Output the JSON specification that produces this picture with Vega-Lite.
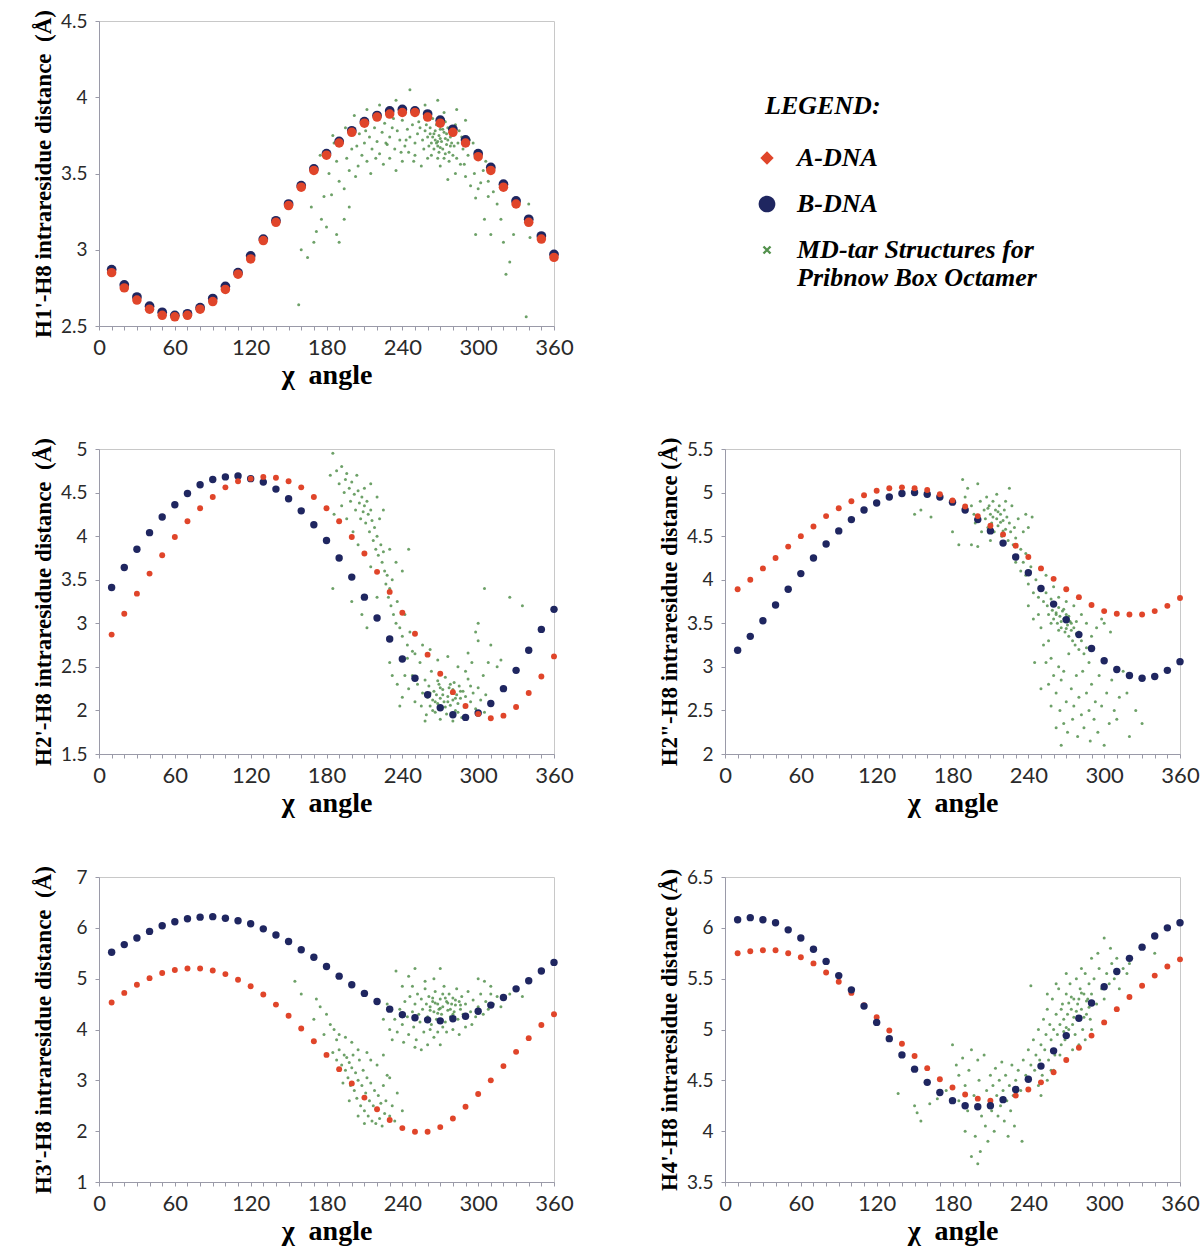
{
"$schema": "https://vega.github.io/schema/vega-lite/v6.json",
"background": "white",
"padding": {"left": 31, "top": 9, "right": 3, "bottom": 5},
"columns": 2,
"bounds": "flush",
"spacing": {"row": 123, "column": 171},
"resolve": {"scale": {"color": "independent", "shape": "independent"}},
"datasets": {
"ab1": [{"x":10,"a":2.85,"b":2.87},{"x":20,"a":2.75,"b":2.77},{"x":30,"a":2.67,"b":2.69},{"x":40,"a":2.61,"b":2.63},{"x":50,"a":2.57,"b":2.59},{"x":60,"a":2.56,"b":2.57},{"x":70,"a":2.57,"b":2.58},{"x":80,"a":2.61,"b":2.62},{"x":90,"a":2.66,"b":2.68},{"x":100,"a":2.74,"b":2.76},{"x":110,"a":2.84,"b":2.85},{"x":120,"a":2.94,"b":2.96},{"x":130,"a":3.06,"b":3.07},{"x":140,"a":3.18,"b":3.19},{"x":150,"a":3.29,"b":3.3},{"x":160,"a":3.41,"b":3.42},{"x":170,"a":3.52,"b":3.53},{"x":180,"a":3.62,"b":3.63},{"x":190,"a":3.7,"b":3.71},{"x":200,"a":3.77,"b":3.78},{"x":210,"a":3.83,"b":3.84},{"x":220,"a":3.87,"b":3.88},{"x":230,"a":3.89,"b":3.91},{"x":240,"a":3.9,"b":3.92},{"x":250,"a":3.9,"b":3.91},{"x":260,"a":3.87,"b":3.89},{"x":270,"a":3.83,"b":3.85},{"x":280,"a":3.77,"b":3.79},{"x":290,"a":3.7,"b":3.72},{"x":300,"a":3.61,"b":3.63},{"x":310,"a":3.52,"b":3.54},{"x":320,"a":3.41,"b":3.43},{"x":330,"a":3.3,"b":3.32},{"x":340,"a":3.18,"b":3.2},{"x":350,"a":3.07,"b":3.09},{"x":360,"a":2.95,"b":2.97}],
"ab2": [{"x":10,"a":2.87,"b":3.41},{"x":20,"a":3.11,"b":3.64},{"x":30,"a":3.34,"b":3.85},{"x":40,"a":3.57,"b":4.04},{"x":50,"a":3.78,"b":4.22},{"x":60,"a":3.99,"b":4.36},{"x":70,"a":4.17,"b":4.49},{"x":80,"a":4.32,"b":4.59},{"x":90,"a":4.45,"b":4.65},{"x":100,"a":4.56,"b":4.68},{"x":110,"a":4.63,"b":4.69},{"x":120,"a":4.66,"b":4.66},{"x":130,"a":4.68,"b":4.62},{"x":140,"a":4.67,"b":4.54},{"x":150,"a":4.63,"b":4.43},{"x":160,"a":4.56,"b":4.29},{"x":170,"a":4.45,"b":4.13},{"x":180,"a":4.32,"b":3.95},{"x":190,"a":4.17,"b":3.75},{"x":200,"a":3.99,"b":3.53},{"x":210,"a":3.8,"b":3.3},{"x":220,"a":3.59,"b":3.06},{"x":230,"a":3.36,"b":2.82},{"x":240,"a":3.12,"b":2.59},{"x":250,"a":2.88,"b":2.37},{"x":260,"a":2.64,"b":2.18},{"x":270,"a":2.42,"b":2.03},{"x":280,"a":2.21,"b":1.95},{"x":290,"a":2.05,"b":1.92},{"x":300,"a":1.96,"b":1.97},{"x":310,"a":1.91,"b":2.08},{"x":320,"a":1.94,"b":2.25},{"x":330,"a":2.04,"b":2.46},{"x":340,"a":2.2,"b":2.69},{"x":350,"a":2.39,"b":2.93},{"x":360,"a":2.62,"b":3.16}],
"ab3": [{"x":10,"a":3.89,"b":3.19},{"x":20,"a":4.0,"b":3.35},{"x":30,"a":4.13,"b":3.53},{"x":40,"a":4.25,"b":3.71},{"x":50,"a":4.38,"b":3.89},{"x":60,"a":4.5,"b":4.07},{"x":70,"a":4.61,"b":4.25},{"x":80,"a":4.73,"b":4.41},{"x":90,"a":4.82,"b":4.56},{"x":100,"a":4.9,"b":4.69},{"x":110,"a":4.97,"b":4.8},{"x":120,"a":5.02,"b":4.88},{"x":130,"a":5.05,"b":4.95},{"x":140,"a":5.06,"b":4.99},{"x":150,"a":5.05,"b":5.0},{"x":160,"a":5.03,"b":4.98},{"x":170,"a":4.98,"b":4.95},{"x":180,"a":4.91,"b":4.89},{"x":190,"a":4.84,"b":4.8},{"x":200,"a":4.73,"b":4.69},{"x":210,"a":4.62,"b":4.56},{"x":220,"a":4.52,"b":4.42},{"x":230,"a":4.39,"b":4.26},{"x":240,"a":4.26,"b":4.08},{"x":250,"a":4.13,"b":3.9},{"x":260,"a":4.01,"b":3.72},{"x":270,"a":3.89,"b":3.54},{"x":280,"a":3.8,"b":3.37},{"x":290,"a":3.71,"b":3.21},{"x":300,"a":3.64,"b":3.07},{"x":310,"a":3.61,"b":2.97},{"x":320,"a":3.6,"b":2.9},{"x":330,"a":3.6,"b":2.87},{"x":340,"a":3.64,"b":2.89},{"x":350,"a":3.7,"b":2.96},{"x":360,"a":3.79,"b":3.06}],
"ab4": [{"x":10,"a":4.53,"b":5.52},{"x":20,"a":4.72,"b":5.67},{"x":30,"a":4.88,"b":5.8},{"x":40,"a":5.01,"b":5.93},{"x":50,"a":5.11,"b":6.04},{"x":60,"a":5.17,"b":6.12},{"x":70,"a":5.2,"b":6.18},{"x":80,"a":5.2,"b":6.21},{"x":90,"a":5.16,"b":6.22},{"x":100,"a":5.09,"b":6.19},{"x":110,"a":4.98,"b":6.14},{"x":120,"a":4.85,"b":6.08},{"x":130,"a":4.69,"b":5.98},{"x":140,"a":4.49,"b":5.86},{"x":150,"a":4.27,"b":5.73},{"x":160,"a":4.02,"b":5.57},{"x":170,"a":3.77,"b":5.42},{"x":180,"a":3.5,"b":5.24},{"x":190,"a":3.22,"b":5.05},{"x":200,"a":2.94,"b":4.88},{"x":210,"a":2.66,"b":4.71},{"x":220,"a":2.43,"b":4.55},{"x":230,"a":2.22,"b":4.4},{"x":240,"a":2.06,"b":4.29},{"x":250,"a":1.99,"b":4.23},{"x":260,"a":1.99,"b":4.19},{"x":270,"a":2.08,"b":4.17},{"x":280,"a":2.25,"b":4.21},{"x":290,"a":2.48,"b":4.26},{"x":300,"a":2.73,"b":4.36},{"x":310,"a":3.0,"b":4.48},{"x":320,"a":3.28,"b":4.63},{"x":330,"a":3.56,"b":4.8},{"x":340,"a":3.83,"b":4.96},{"x":350,"a":4.09,"b":5.15},{"x":360,"a":4.3,"b":5.32}],
"ab5": [{"x":10,"a":5.75,"b":6.08},{"x":20,"a":5.77,"b":6.1},{"x":30,"a":5.78,"b":6.08},{"x":40,"a":5.78,"b":6.05},{"x":50,"a":5.75,"b":5.98},{"x":60,"a":5.71,"b":5.9},{"x":70,"a":5.65,"b":5.79},{"x":80,"a":5.56,"b":5.67},{"x":90,"a":5.47,"b":5.53},{"x":100,"a":5.36,"b":5.39},{"x":110,"a":5.24,"b":5.23},{"x":120,"a":5.12,"b":5.07},{"x":130,"a":4.99,"b":4.91},{"x":140,"a":4.86,"b":4.75},{"x":150,"a":4.74,"b":4.61},{"x":160,"a":4.62,"b":4.48},{"x":170,"a":4.51,"b":4.38},{"x":180,"a":4.43,"b":4.3},{"x":190,"a":4.36,"b":4.25},{"x":200,"a":4.32,"b":4.24},{"x":210,"a":4.3,"b":4.25},{"x":220,"a":4.31,"b":4.31},{"x":230,"a":4.35,"b":4.41},{"x":240,"a":4.41,"b":4.51},{"x":250,"a":4.48,"b":4.64},{"x":260,"a":4.58,"b":4.79},{"x":270,"a":4.7,"b":4.94},{"x":280,"a":4.82,"b":5.11},{"x":290,"a":4.94,"b":5.26},{"x":300,"a":5.07,"b":5.42},{"x":310,"a":5.2,"b":5.57},{"x":320,"a":5.32,"b":5.7},{"x":330,"a":5.43,"b":5.81},{"x":340,"a":5.53,"b":5.92},{"x":350,"a":5.62,"b":6.0},{"x":360,"a":5.69,"b":6.05}],
"md1": [{"x":258,"y":3.78},{"x":260,"y":3.74},{"x":262,"y":3.8},{"x":263,"y":3.7},{"x":265,"y":3.76},{"x":266,"y":3.72},{"x":267,"y":3.82},{"x":268,"y":3.68},{"x":269,"y":3.75},{"x":270,"y":3.79},{"x":271,"y":3.71},{"x":272,"y":3.66},{"x":273,"y":3.77},{"x":274,"y":3.73},{"x":275,"y":3.69},{"x":276,"y":3.8},{"x":277,"y":3.64},{"x":278,"y":3.74},{"x":279,"y":3.7},{"x":280,"y":3.62},{"x":264,"y":3.86},{"x":268,"y":3.6},{"x":261,"y":3.68},{"x":274,"y":3.84},{"x":266,"y":3.78},{"x":270,"y":3.73},{"x":272,"y":3.79},{"x":268,"y":3.71},{"x":264,"y":3.74},{"x":276,"y":3.72},{"x":278,"y":3.68},{"x":262,"y":3.76},{"x":270,"y":3.67},{"x":274,"y":3.63},{"x":256,"y":3.72},{"x":254,"y":3.8},{"x":252,"y":3.76},{"x":250,"y":3.7},{"x":248,"y":3.82},{"x":246,"y":3.74},{"x":244,"y":3.79},{"x":242,"y":3.68},{"x":240,"y":3.85},{"x":238,"y":3.72},{"x":236,"y":3.78},{"x":234,"y":3.66},{"x":232,"y":3.8},{"x":230,"y":3.74},{"x":228,"y":3.69},{"x":226,"y":3.83},{"x":224,"y":3.77},{"x":222,"y":3.63},{"x":220,"y":3.71},{"x":218,"y":3.8},{"x":216,"y":3.66},{"x":214,"y":3.74},{"x":212,"y":3.58},{"x":210,"y":3.7},{"x":208,"y":3.62},{"x":206,"y":3.76},{"x":205,"y":3.55},{"x":203,"y":3.48},{"x":200,"y":3.66},{"x":198,"y":3.52},{"x":196,"y":3.6},{"x":194,"y":3.4},{"x":192,"y":3.72},{"x":190,"y":3.45},{"x":188,"y":3.58},{"x":186,"y":3.7},{"x":184,"y":3.36},{"x":182,"y":3.5},{"x":185,"y":3.75},{"x":195,"y":3.8},{"x":202,"y":3.88},{"x":212,"y":3.92},{"x":222,"y":3.95},{"x":235,"y":3.98},{"x":246,"y":4.05},{"x":258,"y":3.95},{"x":268,"y":3.98},{"x":283,"y":3.92},{"x":290,"y":3.85},{"x":296,"y":3.7},{"x":300,"y":3.6},{"x":304,"y":3.52},{"x":308,"y":3.45},{"x":312,"y":3.38},{"x":286,"y":3.56},{"x":290,"y":3.48},{"x":294,"y":3.42},{"x":298,"y":3.34},{"x":282,"y":3.5},{"x":276,"y":3.46},{"x":284,"y":3.7},{"x":288,"y":3.66},{"x":292,"y":3.62},{"x":285,"y":3.78},{"x":282,"y":3.82},{"x":287,"y":3.74},{"x":215,"y":3.5},{"x":225,"y":3.56},{"x":230,"y":3.6},{"x":240,"y":3.58},{"x":250,"y":3.62},{"x":255,"y":3.55},{"x":260,"y":3.6},{"x":270,"y":3.55},{"x":245,"y":3.64},{"x":235,"y":3.52},{"x":228,"y":3.9},{"x":218,"y":3.88},{"x":208,"y":3.84},{"x":240,"y":3.92},{"x":252,"y":3.9},{"x":262,"y":3.9},{"x":273,"y":3.9},{"x":178,"y":3.35},{"x":175,"y":3.62},{"x":172,"y":3.12},{"x":170,"y":3.05},{"x":165,"y":2.95},{"x":160,"y":3.0},{"x":158,"y":2.64},{"x":168,"y":3.28},{"x":176,"y":3.2},{"x":180,"y":3.15},{"x":188,"y":3.1},{"x":190,"y":3.05},{"x":194,"y":3.2},{"x":198,"y":3.28},{"x":315,"y":3.3},{"x":318,"y":3.2},{"x":320,"y":3.05},{"x":322,"y":2.84},{"x":325,"y":2.92},{"x":328,"y":3.1},{"x":340,"y":3.3},{"x":341,"y":3.08},{"x":338,"y":2.56},{"x":305,"y":3.2},{"x":298,"y":3.1},{"x":310,"y":3.1},{"x":300,"y":3.4},{"x":308,"y":3.35},{"x":204,"y":3.68},{"x":211,"y":3.78},{"x":219,"y":3.6},{"x":227,"y":3.7},{"x":233,"y":3.86},{"x":239,"y":3.64},{"x":243,"y":3.72},{"x":249,"y":3.58},{"x":253,"y":3.84},{"x":257,"y":3.66},{"x":259,"y":3.82},{"x":263,"y":3.62},{"x":267,"y":3.7},{"x":271,"y":3.84},{"x":275,"y":3.76},{"x":279,"y":3.78},{"x":281,"y":3.68},{"x":283,"y":3.6},{"x":289,"y":3.56},{"x":293,"y":3.72},{"x":297,"y":3.5},{"x":302,"y":3.44},{"x":306,"y":3.58},{"x":269,"y":3.64},{"x":265,"y":3.66},{"x":277,"y":3.58},{"x":273,"y":3.6}],
"md2": [{"x":183,"y":4.7},{"x":185,"y":4.95},{"x":188,"y":4.75},{"x":190,"y":4.6},{"x":192,"y":4.8},{"x":194,"y":4.5},{"x":196,"y":4.72},{"x":198,"y":4.55},{"x":199,"y":4.4},{"x":200,"y":4.62},{"x":202,"y":4.48},{"x":203,"y":4.3},{"x":204,"y":4.7},{"x":205,"y":4.52},{"x":206,"y":4.38},{"x":207,"y":4.2},{"x":208,"y":4.45},{"x":209,"y":4.28},{"x":210,"y":4.35},{"x":211,"y":4.15},{"x":212,"y":4.4},{"x":213,"y":4.25},{"x":214,"y":4.05},{"x":215,"y":4.3},{"x":216,"y":4.18},{"x":217,"y":3.95},{"x":218,"y":4.1},{"x":219,"y":3.85},{"x":220,"y":4.0},{"x":221,"y":3.78},{"x":222,"y":4.2},{"x":223,"y":3.9},{"x":224,"y":3.7},{"x":225,"y":3.82},{"x":226,"y":3.6},{"x":227,"y":3.45},{"x":228,"y":3.55},{"x":229,"y":3.3},{"x":230,"y":3.4},{"x":231,"y":3.2},{"x":232,"y":3.5},{"x":233,"y":3.1},{"x":235,"y":3.0},{"x":236,"y":3.25},{"x":238,"y":2.95},{"x":240,"y":2.85},{"x":242,"y":3.1},{"x":244,"y":2.75},{"x":246,"y":2.9},{"x":248,"y":2.68},{"x":186,"y":4.25},{"x":192,"y":4.35},{"x":196,"y":4.2},{"x":201,"y":4.05},{"x":195,"y":4.65},{"x":210,"y":4.55},{"x":215,"y":4.6},{"x":220,"y":4.45},{"x":225,"y":4.3},{"x":230,"y":3.85},{"x":240,"y":3.6},{"x":245,"y":3.85},{"x":235,"y":3.7},{"x":215,"y":3.65},{"x":205,"y":3.9},{"x":185,"y":3.4},{"x":200,"y":3.25},{"x":208,"y":3.1},{"x":212,"y":2.95},{"x":220,"y":3.3},{"x":245,"y":2.25},{"x":248,"y":2.4},{"x":250,"y":2.1},{"x":252,"y":2.3},{"x":254,"y":2.55},{"x":255,"y":2.05},{"x":256,"y":2.2},{"x":258,"y":2.35},{"x":259,"y":1.95},{"x":260,"y":2.15},{"x":261,"y":2.28},{"x":262,"y":2.05},{"x":263,"y":2.45},{"x":264,"y":2.12},{"x":265,"y":2.22},{"x":266,"y":1.98},{"x":267,"y":2.18},{"x":268,"y":2.08},{"x":269,"y":2.3},{"x":270,"y":2.14},{"x":271,"y":2.02},{"x":272,"y":2.24},{"x":273,"y":2.1},{"x":274,"y":2.38},{"x":275,"y":1.96},{"x":276,"y":2.16},{"x":277,"y":2.26},{"x":278,"y":2.06},{"x":279,"y":2.2},{"x":280,"y":2.12},{"x":281,"y":2.32},{"x":282,"y":2.0},{"x":283,"y":2.18},{"x":284,"y":2.08},{"x":285,"y":2.28},{"x":286,"y":2.14},{"x":287,"y":1.92},{"x":288,"y":2.22},{"x":289,"y":2.04},{"x":290,"y":2.16},{"x":292,"y":2.36},{"x":294,"y":2.1},{"x":296,"y":2.2},{"x":298,"y":2.02},{"x":300,"y":2.26},{"x":302,"y":2.12},{"x":304,"y":2.4},{"x":306,"y":2.18},{"x":308,"y":2.55},{"x":244,"y":2.6},{"x":250,"y":2.65},{"x":256,"y":2.75},{"x":262,"y":2.7},{"x":268,"y":2.58},{"x":276,"y":2.62},{"x":284,"y":2.5},{"x":292,"y":2.66},{"x":300,"y":2.8},{"x":298,"y":2.9},{"x":290,"y":2.45},{"x":295,"y":2.55},{"x":240,"y":2.15},{"x":242,"y":2.4},{"x":238,"y":2.05},{"x":258,"y":1.88},{"x":270,"y":1.9},{"x":280,"y":1.88},{"x":310,"y":2.1},{"x":305,"y":1.98},{"x":305,"y":3.4},{"x":300,"y":3.0},{"x":325,"y":3.3},{"x":335,"y":3.2},{"x":310,"y":2.75},{"x":318,"y":2.58},{"x":315,"y":2.5},{"x":230,"y":2.55},{"x":232,"y":2.4},{"x":236,"y":2.3},{"x":262,"y":2.2},{"x":266,"y":2.1},{"x":270,"y":2.26},{"x":274,"y":2.04},{"x":278,"y":2.3},{"x":282,"y":2.14},{"x":286,"y":2.22},{"x":290,"y":2.06},{"x":294,"y":2.28},{"x":272,"y":2.18},{"x":268,"y":2.34},{"x":264,"y":2.0},{"x":276,"y":2.1},{"x":280,"y":2.24},{"x":284,"y":1.98}],
"md3": [{"x":150,"y":4.75},{"x":155,"y":4.8},{"x":163,"y":4.72},{"x":180,"y":4.55},{"x":188,"y":5.15},{"x":190,"y":4.95},{"x":192,"y":5.05},{"x":195,"y":4.85},{"x":197,"y":4.75},{"x":198,"y":4.65},{"x":200,"y":5.1},{"x":202,"y":4.9},{"x":203,"y":4.55},{"x":205,"y":4.8},{"x":206,"y":4.7},{"x":207,"y":4.95},{"x":208,"y":4.6},{"x":209,"y":4.85},{"x":210,"y":4.75},{"x":211,"y":4.65},{"x":212,"y":4.9},{"x":213,"y":4.55},{"x":214,"y":4.8},{"x":215,"y":4.7},{"x":216,"y":4.62},{"x":217,"y":4.85},{"x":218,"y":4.75},{"x":219,"y":4.5},{"x":220,"y":4.68},{"x":221,"y":4.8},{"x":222,"y":4.58},{"x":223,"y":4.72},{"x":224,"y":4.45},{"x":225,"y":4.65},{"x":226,"y":4.55},{"x":227,"y":4.85},{"x":228,"y":4.4},{"x":229,"y":4.6},{"x":230,"y":4.48},{"x":232,"y":4.7},{"x":234,"y":4.35},{"x":236,"y":4.55},{"x":238,"y":4.3},{"x":240,"y":4.6},{"x":236,"y":4.2},{"x":230,"y":4.2},{"x":225,"y":5.05},{"x":215,"y":4.98},{"x":195,"y":4.4},{"x":200,"y":4.38},{"x":185,"y":4.4},{"x":210,"y":4.45},{"x":243,"y":4.72},{"x":238,"y":4.75},{"x":234,"y":4.1},{"x":238,"y":4.05},{"x":240,"y":3.95},{"x":242,"y":4.15},{"x":244,"y":3.85},{"x":246,"y":4.0},{"x":248,"y":3.8},{"x":250,"y":3.9},{"x":252,"y":3.75},{"x":254,"y":3.85},{"x":255,"y":3.7},{"x":256,"y":3.6},{"x":258,"y":3.78},{"x":259,"y":3.65},{"x":260,"y":3.55},{"x":261,"y":3.72},{"x":262,"y":3.62},{"x":263,"y":3.5},{"x":264,"y":3.68},{"x":265,"y":3.58},{"x":266,"y":3.45},{"x":267,"y":3.64},{"x":268,"y":3.55},{"x":269,"y":3.4},{"x":270,"y":3.6},{"x":271,"y":3.48},{"x":272,"y":3.35},{"x":273,"y":3.52},{"x":274,"y":3.42},{"x":275,"y":3.3},{"x":276,"y":3.45},{"x":277,"y":3.25},{"x":278,"y":3.38},{"x":280,"y":3.2},{"x":282,"y":3.3},{"x":284,"y":3.15},{"x":286,"y":3.22},{"x":288,"y":3.05},{"x":264,"y":3.8},{"x":270,"y":3.75},{"x":276,"y":3.7},{"x":282,"y":3.6},{"x":286,"y":3.5},{"x":290,"y":3.35},{"x":294,"y":3.45},{"x":298,"y":3.55},{"x":300,"y":3.5},{"x":305,"y":3.4},{"x":260,"y":3.92},{"x":254,"y":4.05},{"x":248,"y":3.6},{"x":250,"y":3.45},{"x":244,"y":3.55},{"x":240,"y":3.7},{"x":256,"y":3.3},{"x":252,"y":3.25},{"x":254,"y":3.05},{"x":256,"y":2.8},{"x":258,"y":3.1},{"x":260,"y":2.9},{"x":262,"y":2.7},{"x":264,"y":3.0},{"x":265,"y":2.5},{"x":266,"y":2.85},{"x":268,"y":2.35},{"x":268,"y":2.95},{"x":270,"y":2.6},{"x":271,"y":2.25},{"x":272,"y":3.15},{"x":274,"y":2.75},{"x":275,"y":2.4},{"x":276,"y":2.55},{"x":278,"y":2.9},{"x":279,"y":2.2},{"x":280,"y":2.65},{"x":282,"y":2.45},{"x":283,"y":2.95},{"x":284,"y":2.3},{"x":286,"y":2.7},{"x":288,"y":2.5},{"x":289,"y":2.15},{"x":290,"y":2.8},{"x":292,"y":2.4},{"x":293,"y":2.6},{"x":295,"y":2.25},{"x":296,"y":2.9},{"x":298,"y":2.55},{"x":300,"y":2.1},{"x":302,"y":2.7},{"x":304,"y":2.35},{"x":306,"y":2.85},{"x":308,"y":2.5},{"x":310,"y":2.4},{"x":312,"y":2.65},{"x":245,"y":3.05},{"x":250,"y":2.75},{"x":258,"y":2.55},{"x":262,"y":2.3},{"x":266,"y":2.1},{"x":320,"y":2.2},{"x":330,"y":2.35},{"x":325,"y":2.5},{"x":315,"y":2.95},{"x":318,"y":2.7},{"x":262,"y":3.6},{"x":266,"y":3.52},{"x":268,"y":3.66},{"x":272,"y":3.58},{"x":274,"y":3.5},{"x":270,"y":3.44},{"x":278,"y":3.52},{"x":280,"y":3.4},{"x":264,"y":3.42},{"x":258,"y":3.5},{"x":212,"y":4.72},{"x":218,"y":4.66},{"x":222,"y":4.9},{"x":208,"y":4.82},{"x":216,"y":4.78},{"x":220,"y":4.56}],
"md4": [{"x":185,"y":3.55},{"x":188,"y":3.4},{"x":190,"y":3.6},{"x":192,"y":3.3},{"x":194,"y":3.5},{"x":195,"y":3.2},{"x":196,"y":3.45},{"x":197,"y":3.05},{"x":198,"y":3.35},{"x":199,"y":2.9},{"x":200,"y":3.25},{"x":201,"y":3.5},{"x":202,"y":2.8},{"x":203,"y":3.15},{"x":204,"y":2.65},{"x":205,"y":3.0},{"x":206,"y":3.4},{"x":207,"y":2.5},{"x":208,"y":2.9},{"x":209,"y":3.2},{"x":210,"y":2.4},{"x":211,"y":2.75},{"x":212,"y":3.05},{"x":213,"y":2.3},{"x":214,"y":2.6},{"x":215,"y":2.95},{"x":216,"y":2.2},{"x":217,"y":2.5},{"x":218,"y":2.8},{"x":219,"y":2.15},{"x":220,"y":2.45},{"x":221,"y":2.7},{"x":222,"y":2.25},{"x":223,"y":2.55},{"x":224,"y":2.1},{"x":225,"y":2.9},{"x":226,"y":2.35},{"x":227,"y":2.6},{"x":228,"y":3.1},{"x":230,"y":2.3},{"x":232,"y":2.5},{"x":234,"y":2.2},{"x":236,"y":2.75},{"x":240,"y":2.4},{"x":212,"y":3.55},{"x":205,"y":3.6},{"x":220,"y":3.3},{"x":215,"y":3.4},{"x":225,"y":3.5},{"x":230,"y":3.05},{"x":193,"y":2.95},{"x":198,"y":2.6},{"x":205,"y":2.3},{"x":210,"y":2.15},{"x":200,"y":3.75},{"x":195,"y":3.85},{"x":190,"y":3.9},{"x":155,"y":4.95},{"x":160,"y":4.7},{"x":170,"y":4.2},{"x":175,"y":4.45},{"x":180,"y":4.3},{"x":183,"y":4.1},{"x":178,"y":3.9},{"x":186,"y":4.0},{"x":188,"y":3.8},{"x":172,"y":4.6},{"x":230,"y":4.0},{"x":232,"y":3.8},{"x":234,"y":4.2},{"x":236,"y":3.95},{"x":238,"y":4.4},{"x":240,"y":4.1},{"x":241,"y":3.75},{"x":242,"y":4.55},{"x":244,"y":4.25},{"x":245,"y":3.9},{"x":246,"y":4.65},{"x":248,"y":4.35},{"x":249,"y":4.05},{"x":250,"y":4.5},{"x":251,"y":3.8},{"x":252,"y":4.7},{"x":253,"y":4.3},{"x":254,"y":4.15},{"x":255,"y":4.6},{"x":256,"y":4.4},{"x":257,"y":3.95},{"x":258,"y":4.8},{"x":259,"y":4.5},{"x":260,"y":4.25},{"x":261,"y":4.65},{"x":262,"y":4.45},{"x":263,"y":4.1},{"x":264,"y":4.55},{"x":265,"y":4.35},{"x":266,"y":4.75},{"x":267,"y":4.2},{"x":268,"y":4.5},{"x":269,"y":4.4},{"x":270,"y":4.6},{"x":271,"y":4.3},{"x":272,"y":4.45},{"x":273,"y":4.85},{"x":274,"y":4.15},{"x":275,"y":4.55},{"x":276,"y":4.38},{"x":277,"y":4.7},{"x":278,"y":4.25},{"x":279,"y":4.5},{"x":280,"y":4.62},{"x":281,"y":4.35},{"x":282,"y":4.48},{"x":283,"y":4.8},{"x":284,"y":4.2},{"x":285,"y":4.55},{"x":286,"y":4.4},{"x":287,"y":4.65},{"x":288,"y":4.3},{"x":290,"y":4.5},{"x":292,"y":4.75},{"x":294,"y":4.35},{"x":296,"y":4.58},{"x":298,"y":4.25},{"x":300,"y":4.45},{"x":302,"y":4.7},{"x":304,"y":4.3},{"x":306,"y":4.55},{"x":308,"y":4.4},{"x":310,"y":4.85},{"x":312,"y":4.5},{"x":315,"y":4.65},{"x":318,"y":4.45},{"x":320,"y":4.6},{"x":265,"y":3.85},{"x":270,"y":3.7},{"x":275,"y":3.95},{"x":280,"y":4.0},{"x":260,"y":3.7},{"x":255,"y":3.6},{"x":250,"y":3.65},{"x":285,"y":3.9},{"x":290,"y":4.05},{"x":295,"y":4.1},{"x":268,"y":3.95},{"x":272,"y":4.05},{"x":262,"y":4.0},{"x":258,"y":4.95},{"x":265,"y":5.0},{"x":270,"y":5.2},{"x":250,"y":5.2},{"x":240,"y":4.85},{"x":235,"y":5.15},{"x":300,"y":5.0},{"x":305,"y":4.95},{"x":310,"y":4.7},{"x":325,"y":4.7},{"x":330,"y":4.8},{"x":335,"y":4.65},{"x":228,"y":4.5},{"x":225,"y":4.2},{"x":248,"y":4.85},{"x":245,"y":5.05},{"x":262,"y":4.38},{"x":266,"y":4.52},{"x":270,"y":4.42},{"x":274,"y":4.62},{"x":278,"y":4.4},{"x":282,"y":4.58},{"x":286,"y":4.48},{"x":276,"y":4.52},{"x":268,"y":4.32},{"x":272,"y":4.7},{"x":280,"y":4.3},{"x":264,"y":4.62}],
"md5": [{"x":137,"y":4.37},{"x":150,"y":4.25},{"x":152,"y":4.18},{"x":155,"y":4.1},{"x":162,"y":4.27},{"x":168,"y":4.32},{"x":175,"y":4.4},{"x":180,"y":4.85},{"x":183,"y":4.65},{"x":185,"y":4.55},{"x":188,"y":4.72},{"x":190,"y":4.45},{"x":192,"y":4.2},{"x":193,"y":4.6},{"x":195,"y":3.75},{"x":197,"y":4.35},{"x":198,"y":3.95},{"x":200,"y":3.68},{"x":201,"y":4.5},{"x":202,"y":3.8},{"x":203,"y":4.15},{"x":205,"y":4.75},{"x":206,"y":4.05},{"x":207,"y":4.4},{"x":208,"y":3.9},{"x":209,"y":4.3},{"x":210,"y":4.55},{"x":211,"y":4.2},{"x":212,"y":4.45},{"x":213,"y":4.0},{"x":214,"y":4.62},{"x":215,"y":4.35},{"x":216,"y":4.15},{"x":217,"y":4.5},{"x":218,"y":4.25},{"x":219,"y":4.68},{"x":220,"y":4.4},{"x":221,"y":4.1},{"x":222,"y":4.55},{"x":223,"y":4.3},{"x":224,"y":3.95},{"x":225,"y":4.45},{"x":226,"y":4.2},{"x":227,"y":4.65},{"x":228,"y":4.35},{"x":229,"y":4.05},{"x":230,"y":4.5},{"x":232,"y":4.6},{"x":234,"y":4.4},{"x":235,"y":3.9},{"x":236,"y":4.7},{"x":238,"y":4.55},{"x":240,"y":4.8},{"x":195,"y":4.8},{"x":200,"y":4.7},{"x":185,"y":4.3},{"x":190,"y":4.0},{"x":240,"y":4.5},{"x":242,"y":4.65},{"x":244,"y":4.9},{"x":245,"y":4.6},{"x":246,"y":4.75},{"x":248,"y":5.0},{"x":249,"y":4.7},{"x":250,"y":4.85},{"x":251,"y":4.55},{"x":252,"y":5.1},{"x":253,"y":4.8},{"x":254,"y":4.95},{"x":255,"y":5.2},{"x":256,"y":4.7},{"x":257,"y":5.05},{"x":258,"y":4.9},{"x":259,"y":5.3},{"x":260,"y":5.0},{"x":261,"y":4.75},{"x":262,"y":5.15},{"x":263,"y":4.95},{"x":264,"y":5.4},{"x":265,"y":5.05},{"x":266,"y":4.85},{"x":267,"y":5.25},{"x":268,"y":5.1},{"x":269,"y":4.9},{"x":270,"y":5.35},{"x":271,"y":5.15},{"x":272,"y":5.0},{"x":273,"y":5.45},{"x":274,"y":5.2},{"x":275,"y":5.05},{"x":276,"y":5.3},{"x":277,"y":4.95},{"x":278,"y":5.5},{"x":279,"y":5.25},{"x":280,"y":5.1},{"x":281,"y":5.4},{"x":282,"y":5.2},{"x":283,"y":5.0},{"x":284,"y":5.35},{"x":285,"y":5.55},{"x":286,"y":5.15},{"x":287,"y":5.3},{"x":288,"y":5.45},{"x":289,"y":5.1},{"x":290,"y":5.35},{"x":292,"y":5.5},{"x":294,"y":5.25},{"x":296,"y":5.6},{"x":298,"y":5.4},{"x":300,"y":5.3},{"x":302,"y":5.55},{"x":304,"y":5.45},{"x":306,"y":5.65},{"x":308,"y":5.5},{"x":310,"y":5.7},{"x":312,"y":5.4},{"x":315,"y":5.6},{"x":318,"y":5.55},{"x":300,"y":5.9},{"x":305,"y":5.8},{"x":320,"y":5.65},{"x":340,"y":5.75},{"x":242,"y":5.43},{"x":258,"y":4.6},{"x":265,"y":4.75},{"x":270,"y":4.7},{"x":275,"y":4.8},{"x":280,"y":4.85},{"x":285,"y":4.9},{"x":290,"y":5.0},{"x":262,"y":5.45},{"x":255,"y":5.35},{"x":248,"y":4.45},{"x":250,"y":4.35},{"x":255,"y":4.5},{"x":260,"y":4.6},{"x":295,"y":5.75},{"x":290,"y":5.7},{"x":282,"y":5.6},{"x":270,"y":5.55},{"x":266,"y":5.2},{"x":270,"y":5.02},{"x":274,"y":5.32},{"x":278,"y":5.18},{"x":282,"y":5.36},{"x":286,"y":5.28},{"x":276,"y":5.12},{"x":272,"y":5.26},{"x":268,"y":4.98},{"x":280,"y":5.3},{"x":284,"y":5.12},{"x":288,"y":5.22}]
},
"concat": [
{
"width": 455, "height": 305,
"encoding": {
"x": {"field":"x","type":"quantitative","scale":{"domain":[0,360],"nice":false},"axis":{"values":[0,10,20,30,40,50,60,70,80,90,100,110,120,130,140,150,160,170,180,190,200,210,220,230,240,250,260,270,280,290,300,310,320,330,340,350,360],"labelExpr":"datum.value % 60 == 0 ? datum.label : ''"},"title":"χ\u00a0\u00a0angle"},
"y": {"field":"y","type":"quantitative","scale":{"domain":[2.5,4.5],"nice":false,"zero":false},"axis":{"values":[2.5,3,3.5,4,4.5],"format":"~g"},"title":"H1'-H8 intraresidue distance\u00a0 (Å)"}
},
"layer": [
{"data":{"name":"md1"},"mark":{"type":"point","filled":true,"size":9,"opacity":0.85},"encoding":{"color":{"datum":"MD","type":"nominal","legend":null,"scale":{"domain":["A-DNA","B-DNA","MD"],"range":["#e0452a","#1f2660","#53914d"]}}}},
{"data":{"name":"ab1"},"transform":[{"fold":["b"],"as":["s","y"]}],"mark":{"type":"point","filled":true,"size":95,"opacity":1},"encoding":{"color":{"datum":"B-DNA","type":"nominal","legend":null,"scale":{"domain":["A-DNA","B-DNA","MD"],"range":["#e0452a","#1f2660","#53914d"]}}}},
{"data":{"name":"ab1"},"transform":[{"fold":["a"],"as":["s","y"]}],"mark":{"type":"point","filled":true,"size":90,"opacity":1},"encoding":{"color":{"datum":"A-DNA","type":"nominal","legend":null,"scale":{"domain":["A-DNA","B-DNA","MD"],"range":["#e0452a","#1f2660","#53914d"]}}}}
]
},
{
"width": 455, "height": 305,
"data": {"values": []},
"mark": {"type":"point","filled":true,"opacity":1},
"encoding": {
"color": {"field":"s","type":"nominal","scale":{"domain":["A-DNA","B-DNA","MD"],"range":["#e0452a","#1f2660","#53914d"]},
"legend":{"title":"LEGEND:","orient":"none","legendX":40,"legendY":72,"direction":"vertical",
"titleFont":"Liberation Serif","titleFontSize":26,"titleFontStyle":"italic","titleFontWeight":"bold","titleColor":"#000","titlePadding":26,
"labelFont":"Liberation Serif","labelFontSize":26,"labelFontStyle":"italic","labelFontWeight":"bold","labelColor":"#000","labelLimit":400,"labelOffset":17,
"rowPadding":20,"symbolSize":280,"symbolOffset":-11,"symbolOpacity":1,
"labelExpr":"datum.label == 'MD' ? ['MD-tar Structures for', 'Pribnow Box Octamer'] : datum.label"}},
"shape": {"field":"s","type":"nominal","scale":{"domain":["A-DNA","B-DNA","MD"],"range":["M0,-0.8L0.8,0L0,0.8L-0.8,0Z","M1,0A1,1,0,1,1,-1,0A1,1,0,1,1,1,0Z","M-0.32,-0.52L0.52,0.32L0.32,0.52L-0.52,-0.32ZM-0.52,0.32L0.32,-0.52L0.52,-0.32L-0.32,0.52Z"]},
"legend":{"title":"LEGEND:","orient":"none","legendX":40,"legendY":72,"direction":"vertical",
"titleFont":"Liberation Serif","titleFontSize":26,"titleFontStyle":"italic","titleFontWeight":"bold","titleColor":"#000","titlePadding":26,
"labelFont":"Liberation Serif","labelFontSize":26,"labelFontStyle":"italic","labelFontWeight":"bold","labelColor":"#000","labelLimit":400,"labelOffset":17,
"rowPadding":20,"symbolSize":280,"symbolOffset":-11,"symbolOpacity":1,
"labelExpr":"datum.label == 'MD' ? ['MD-tar Structures for', 'Pribnow Box Octamer'] : datum.label"}}
},
"view": {"stroke": null}
},
{
"width": 455, "height": 305,
"encoding": {
"x": {"field":"x","type":"quantitative","scale":{"domain":[0,360],"nice":false},"axis":{"values":[0,10,20,30,40,50,60,70,80,90,100,110,120,130,140,150,160,170,180,190,200,210,220,230,240,250,260,270,280,290,300,310,320,330,340,350,360],"labelExpr":"datum.value % 60 == 0 ? datum.label : ''"},"title":"χ\u00a0\u00a0angle"},
"y": {"field":"y","type":"quantitative","scale":{"domain":[1.5,5],"nice":false,"zero":false},"axis":{"values":[1.5,2,2.5,3,3.5,4,4.5,5],"format":"~g"},"title":"H2'-H8 intraresidue distance\u00a0 (Å)"}
},
"layer": [
{"data":{"name":"md2"},"mark":{"type":"point","filled":true,"size":9,"opacity":0.85},"encoding":{"color":{"datum":"MD","type":"nominal","legend":null,"scale":{"domain":["A-DNA","B-DNA","MD"],"range":["#e0452a","#1f2660","#53914d"]}}}},
{"data":{"name":"ab2"},"transform":[{"fold":["b"],"as":["s","y"]}],"mark":{"type":"point","filled":true,"size":55,"opacity":1},"encoding":{"color":{"datum":"B-DNA","type":"nominal","legend":null,"scale":{"domain":["A-DNA","B-DNA","MD"],"range":["#e0452a","#1f2660","#53914d"]}}}},
{"data":{"name":"ab2"},"transform":[{"fold":["a"],"as":["s","y"]}],"mark":{"type":"point","filled":true,"size":35,"opacity":1},"encoding":{"color":{"datum":"A-DNA","type":"nominal","legend":null,"scale":{"domain":["A-DNA","B-DNA","MD"],"range":["#e0452a","#1f2660","#53914d"]}}}}
]
},
{
"width": 455, "height": 305,
"encoding": {
"x": {"field":"x","type":"quantitative","scale":{"domain":[0,360],"nice":false},"axis":{"values":[0,10,20,30,40,50,60,70,80,90,100,110,120,130,140,150,160,170,180,190,200,210,220,230,240,250,260,270,280,290,300,310,320,330,340,350,360],"labelExpr":"datum.value % 60 == 0 ? datum.label : ''"},"title":"χ\u00a0\u00a0angle"},
"y": {"field":"y","type":"quantitative","scale":{"domain":[2,5.5],"nice":false,"zero":false},"axis":{"values":[2,2.5,3,3.5,4,4.5,5,5.5],"format":"~g"},"title":"H2\"-H8 intraresidue distance (Å)"}
},
"layer": [
{"data":{"name":"md3"},"mark":{"type":"point","filled":true,"size":9,"opacity":0.85},"encoding":{"color":{"datum":"MD","type":"nominal","legend":null,"scale":{"domain":["A-DNA","B-DNA","MD"],"range":["#e0452a","#1f2660","#53914d"]}}}},
{"data":{"name":"ab3"},"transform":[{"fold":["b"],"as":["s","y"]}],"mark":{"type":"point","filled":true,"size":55,"opacity":1},"encoding":{"color":{"datum":"B-DNA","type":"nominal","legend":null,"scale":{"domain":["A-DNA","B-DNA","MD"],"range":["#e0452a","#1f2660","#53914d"]}}}},
{"data":{"name":"ab3"},"transform":[{"fold":["a"],"as":["s","y"]}],"mark":{"type":"point","filled":true,"size":35,"opacity":1},"encoding":{"color":{"datum":"A-DNA","type":"nominal","legend":null,"scale":{"domain":["A-DNA","B-DNA","MD"],"range":["#e0452a","#1f2660","#53914d"]}}}}
]
},
{
"width": 455, "height": 305,
"encoding": {
"x": {"field":"x","type":"quantitative","scale":{"domain":[0,360],"nice":false},"axis":{"values":[0,10,20,30,40,50,60,70,80,90,100,110,120,130,140,150,160,170,180,190,200,210,220,230,240,250,260,270,280,290,300,310,320,330,340,350,360],"labelExpr":"datum.value % 60 == 0 ? datum.label : ''"},"title":"χ\u00a0\u00a0angle"},
"y": {"field":"y","type":"quantitative","scale":{"domain":[1,7],"nice":false,"zero":false},"axis":{"values":[1,2,3,4,5,6,7],"format":"~g"},"title":"H3'-H8 intraresidue distance\u00a0 (Å)"}
},
"layer": [
{"data":{"name":"md4"},"mark":{"type":"point","filled":true,"size":9,"opacity":0.85},"encoding":{"color":{"datum":"MD","type":"nominal","legend":null,"scale":{"domain":["A-DNA","B-DNA","MD"],"range":["#e0452a","#1f2660","#53914d"]}}}},
{"data":{"name":"ab4"},"transform":[{"fold":["b"],"as":["s","y"]}],"mark":{"type":"point","filled":true,"size":55,"opacity":1},"encoding":{"color":{"datum":"B-DNA","type":"nominal","legend":null,"scale":{"domain":["A-DNA","B-DNA","MD"],"range":["#e0452a","#1f2660","#53914d"]}}}},
{"data":{"name":"ab4"},"transform":[{"fold":["a"],"as":["s","y"]}],"mark":{"type":"point","filled":true,"size":35,"opacity":1},"encoding":{"color":{"datum":"A-DNA","type":"nominal","legend":null,"scale":{"domain":["A-DNA","B-DNA","MD"],"range":["#e0452a","#1f2660","#53914d"]}}}}
]
},
{
"width": 455, "height": 305,
"encoding": {
"x": {"field":"x","type":"quantitative","scale":{"domain":[0,360],"nice":false},"axis":{"values":[0,10,20,30,40,50,60,70,80,90,100,110,120,130,140,150,160,170,180,190,200,210,220,230,240,250,260,270,280,290,300,310,320,330,340,350,360],"labelExpr":"datum.value % 60 == 0 ? datum.label : ''"},"title":"χ\u00a0\u00a0angle"},
"y": {"field":"y","type":"quantitative","scale":{"domain":[3.5,6.5],"nice":false,"zero":false},"axis":{"values":[3.5,4,4.5,5,5.5,6,6.5],"format":"~g"},"title":"H4'-H8 intraresidue distance (Å)"}
},
"layer": [
{"data":{"name":"md5"},"mark":{"type":"point","filled":true,"size":9,"opacity":0.85},"encoding":{"color":{"datum":"MD","type":"nominal","legend":null,"scale":{"domain":["A-DNA","B-DNA","MD"],"range":["#e0452a","#1f2660","#53914d"]}}}},
{"data":{"name":"ab5"},"transform":[{"fold":["a"],"as":["s","y"]}],"mark":{"type":"point","filled":true,"size":35,"opacity":1},"encoding":{"color":{"datum":"A-DNA","type":"nominal","legend":null,"scale":{"domain":["A-DNA","B-DNA","MD"],"range":["#e0452a","#1f2660","#53914d"]}}}},
{"data":{"name":"ab5"},"transform":[{"fold":["b"],"as":["s","y"]}],"mark":{"type":"point","filled":true,"size":55,"opacity":1},"encoding":{"color":{"datum":"B-DNA","type":"nominal","legend":null,"scale":{"domain":["A-DNA","B-DNA","MD"],"range":["#e0452a","#1f2660","#53914d"]}}}}
]
}
],
"config": {
"font": "Lato",
"view": {"stroke": "#c8c8c8", "strokeWidth": 1},
"axis": {"grid": false, "domainColor": "#9a9aa8", "tickColor": "#9a9aa8", "tickSize": 4, "labelFont": "Lato", "labelColor": "#2a2a2a", "titleFont": "Liberation Serif", "titleFontWeight": "bold", "titleColor": "#000", "labelOverlap": false},
"axisX": {"labelFont": "Lato", "labelFontSize": 22, "labelPadding": 7, "titleFont": "Liberation Serif", "titleFontWeight": "bold", "titleFontSize": 28, "titlePadding": 3, "labelFlush": false},
"axisY": {"labelFont": "Lato", "labelFontSize": 19, "labelPadding": 8, "titleFont": "Liberation Serif", "titleFontWeight": "bold", "titleFontSize": 23, "titlePadding": 4, "minExtent": 40, "maxExtent": 40, "labelFlush": false}
}
}
